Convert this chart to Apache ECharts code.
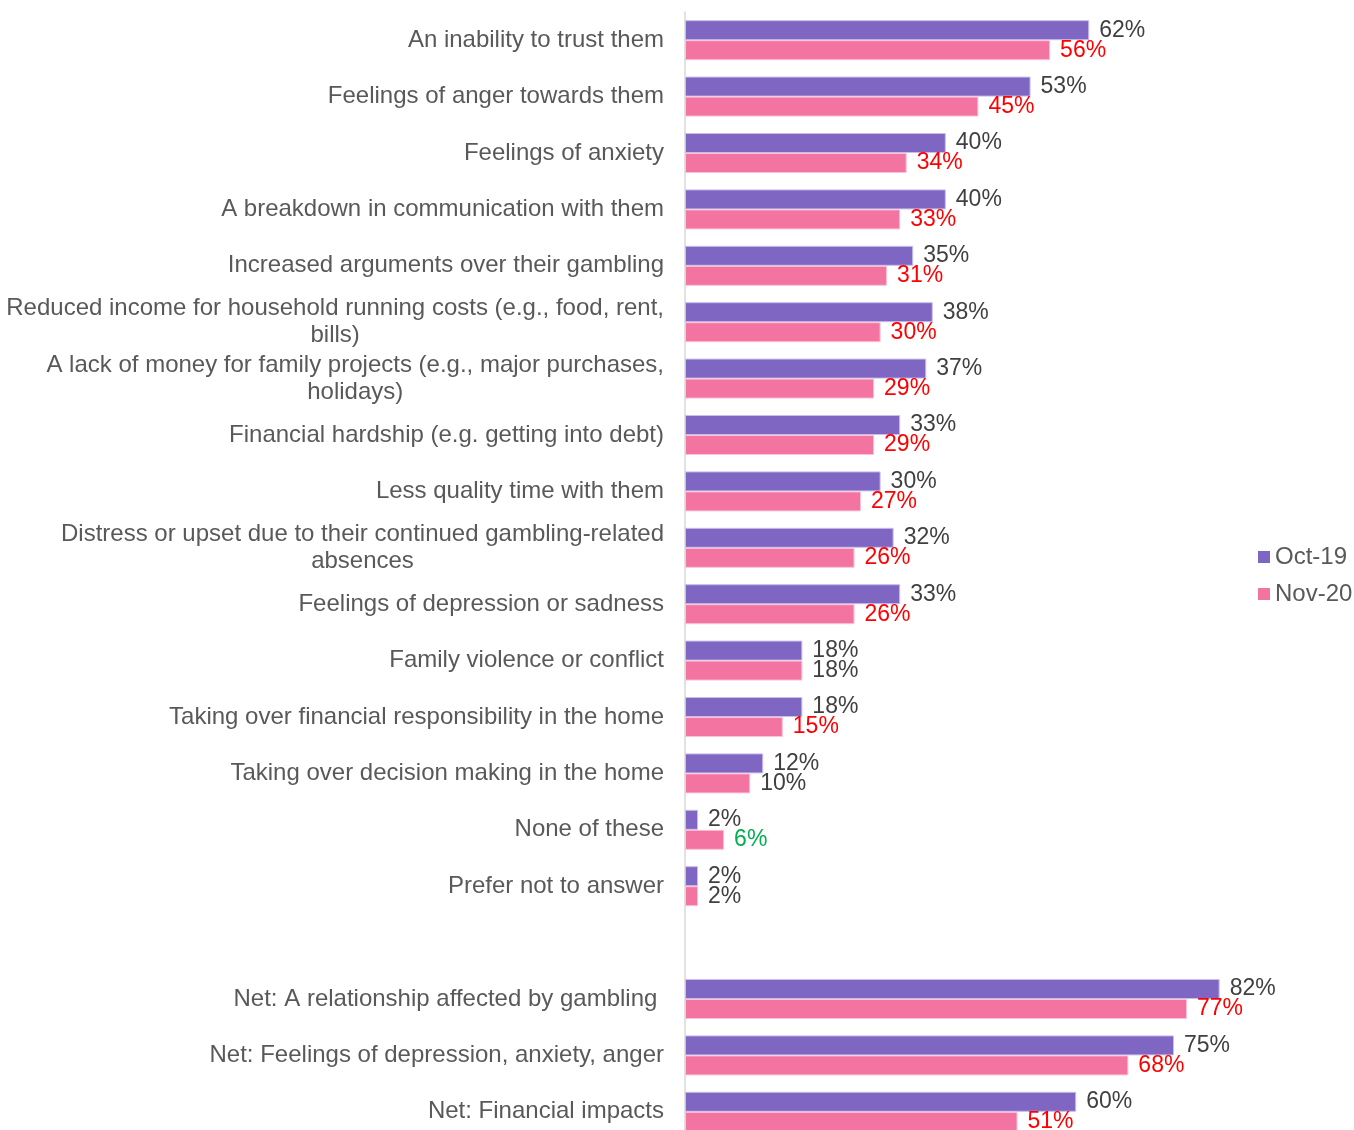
<!DOCTYPE html>
<html>
<head>
<meta charset="utf-8">
<script src="https://cdn.jsdelivr.net/npm/echarts@6/dist/echarts.min.js"></script>
<style>html,body{margin:0;padding:0;background:#fff;overflow:hidden;}#c{width:1354px;height:1140px;}</style>
</head>
<body>
<div id="c"></div>
<script>
const categories = [
  "An inability to trust them",
  "Feelings of anger towards them",
  "Feelings of anxiety",
  "A breakdown in communication with them",
  "Increased arguments over their gambling",
  "Reduced income for household running costs (e.g., food, rent,\nbills)",
  "A lack of money for family projects (e.g., major purchases,\nholidays)",
  "Financial hardship (e.g. getting into debt)",
  "Less quality time with them",
  "Distress or upset due to their continued gambling-related\nabsences",
  "Feelings of depression or sadness",
  "Family violence or conflict",
  "Taking over financial responsibility in the home",
  "Taking over decision making in the home",
  "None of these",
  "Prefer not to answer",
  "",
  "Net: A relationship affected by gambling ",
  "Net: Feelings of depression, anxiety, anger",
  "Net: Financial impacts"
];
const oct19 = [62, 53, 40, 40, 35, 38, 37, 33, 30, 32, 33, 18, 18, 12, 2, 2, null, 82, 75, 60];
const nov20 = [56, 45, 34, 33, 31, 30, 29, 29, 27, 26, 26, 18, 15, 10, 6, 2, null, 77, 68, 51];
// significance: 'down' = red, 'up' = green, '' = no change
const nov20Sig = ['down','down','down','down','down','down','down','down','down','down','down','','down','','up','','','down','down','down'];
const sigColors = { down: '#FF0000', up: '#00B050', '': '#404040' };

const chart = echarts.init(document.getElementById('c'));
chart.setOption({
  animation: false,
  legend: {
    orient: 'vertical',
    left: 1253,
    top: 540,
    itemWidth: 12,
    itemHeight: 12,
    itemGap: 13,
    icon: 'rect',
    itemStyle: { borderWidth: 0 },
    textStyle: { fontFamily: 'Liberation Sans, Arial', fontSize: 24, color: '#595959' },
    data: ['Oct-19', 'Nov-20']
  },
  grid: { left: 685, top: 12, right: 17, bottom: 0, containLabel: false },
  xAxis: {
    type: 'value', min: 0, max: 100, show: false
  },
  yAxis: {
    type: 'category',
    inverse: true,
    data: categories,
    axisLine: { show: true, lineStyle: { color: '#D9D9D9', width: 1.5 } },
    axisTick: { show: false },
    axisLabel: {
      margin: 21,
      interval: 0,
      formatter: v => v ? v.split('\n').map(s => '{c|' + s + '}').join('\n') : '',
      rich: {
        c: { align: 'center', fontFamily: 'Liberation Sans, Arial', fontSize: 24, lineHeight: 27, color: '#595959' }
      }
    }
  },
  series: [
    {
      name: 'Oct-19',
      type: 'bar',
      data: oct19,
      barWidth: 20,
      barGap: '0%',
      itemStyle: { color: '#7E66C2', borderColor: '#C8BDEB', borderWidth: 1 },
      label: {
        show: true, position: 'right', distance: 10,
        formatter: p => p.value == null ? '' : p.value + '%',
        fontFamily: 'Liberation Sans, Arial', fontSize: 23, color: '#404040'
      }
    },
    {
      name: 'Nov-20',
      type: 'bar',
      data: nov20.map((v, i) => ({
        value: v,
        label: { color: sigColors[nov20Sig[i]] }
      })),
      barWidth: 20,
      itemStyle: { color: '#F474A1', borderColor: '#FBC3D7', borderWidth: 1 },
      label: {
        show: true, position: 'right', distance: 10,
        formatter: p => p.value == null ? '' : p.value + '%',
        fontFamily: 'Liberation Sans, Arial', fontSize: 23
      }
    }
  ]
});
</script>
</body>
</html>
